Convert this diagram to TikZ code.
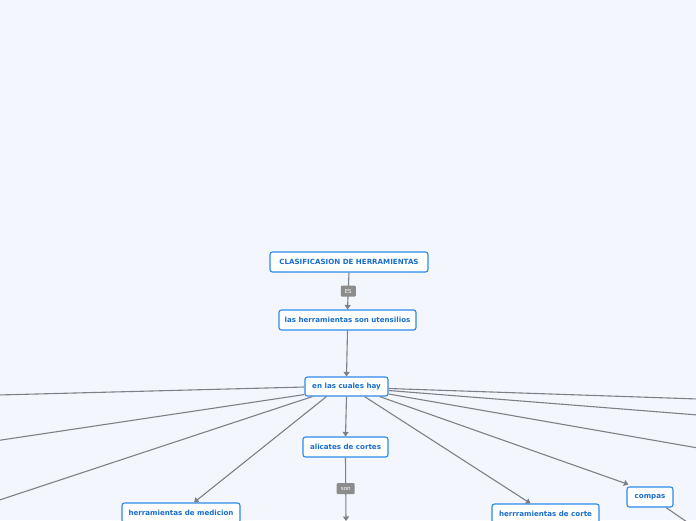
\documentclass[tikz,border=0pt]{standalone}
\usepackage{fontspec}
\newfontfamily\nodefont{DejaVu Sans}
\usetikzlibrary{arrows.meta}
\definecolor{bgc}{RGB}{243,246,253}
\definecolor{bordc}{RGB}{45,137,230}
\definecolor{txtc}{RGB}{25,110,205}
\definecolor{edgec}{RGB}{124,128,138}
\definecolor{lblc}{RGB}{140,140,140}
\tikzset{
  topic/.style={draw=bordc, line width=1.1pt, fill=white, rounded corners=2.5pt,
    text=txtc, font=\nodefont\bfseries\fontsize{7.1}{8}\selectfont,
    inner sep=0pt, minimum height=20pt},
  conn/.style={draw=edgec, line width=1.1pt},
  arr/.style={conn, -{Triangle[width=6pt,length=4.5pt]}},
  lbl/.style={fill=lblc, rounded corners=1pt, text=white,
    font=\nodefont\fontsize{5.5}{6}\selectfont, inner sep=0pt, minimum height=11pt}
}
\begin{document}
\begin{tikzpicture}[x=1pt,y=-1pt]
\fill[bgc] (0,0) rectangle (696,520);
\useasboundingbox (0,0) rectangle (696,520);
\clip (0,0) rectangle (696,520);
% nodes
\node[topic, minimum width=158pt] (n1) at (349,262) {CLASIFICASION DE HERRAMIENTAS};
\node[topic, minimum width=137pt] (n2) at (347.5,320) {las herramientas son utensilios};
\node[topic, minimum width=83pt, minimum height=19pt] (n3) at (346.5,386.5) {en las cuales hay};
\node[topic, minimum width=85pt] (n4) at (345.5,447) {alicates de cortes};
\node[topic, minimum width=118pt] (n5) at (181,513) {herramientas de medicion};
\node[topic, minimum width=107pt] (n6) at (545.5,514) {herrramientas de corte};
\node[topic, minimum width=46pt] (n7) at (650,497) {compas};
% off-canvas ends
\coordinate (l1) at (-2,395);
\coordinate (l2) at (-2,440.5);
\coordinate (l3) at (-2,500.5);
\coordinate (r1) at (698,399);
\coordinate (r2) at (698,415);
\coordinate (r3) at (698,448);
\coordinate (s1) at (346,521);
\coordinate (c1) at (687,522);
% connectors
\draw[arr] (n1.south) -- (n2.north) node[lbl, midway, minimum width=15pt] (e1) {ES};
\draw[arr] (n2.south) -- (n3.north);
\draw[arr] (n3.south) -- (n4.north);
\draw[arr] (n4.south) -- (s1) node[lbl, pos=0.49, minimum width=18pt] (e2) {son};
\draw[arr] ([xshift=-20pt]n3.south) -- ([xshift=13pt]n5.north);
\draw[arr] ([xshift=18pt]n3.south) -- ([xshift=-15pt]n6.north);
\draw[arr] ([xshift=-9pt]n3.south east) -- ([xshift=2pt,yshift=2pt]n7.north west);
\draw[conn] ([xshift=16pt]n7.south) -- (c1);
\draw[conn] ([yshift=-0.5pt]n3.west) -- (l1);
\draw[conn] ([yshift=2pt]n3.south west) -- (l2);
\draw[conn] ([xshift=8pt]n3.south west) -- (l3);
\draw[conn] ([yshift=-2pt]n3.east) -- (r1);
\draw[conn] ([yshift=-4pt]n3.east) -- (r2);
\draw[conn] ([yshift=-7.5pt]n3.east) -- (r3);
\end{tikzpicture}
\end{document}
